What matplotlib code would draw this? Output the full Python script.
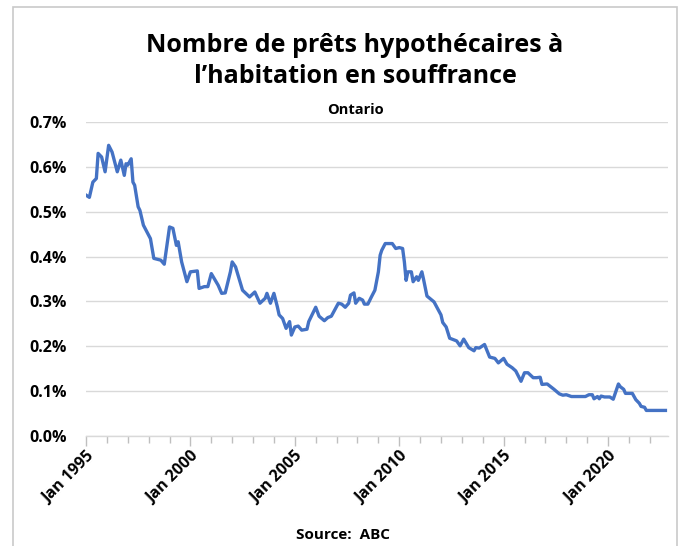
import matplotlib
matplotlib.use("Agg")
import matplotlib.pyplot as plt
import pandas as pd
from matplotlib.patches import Rectangle

plt.rcParams['font.family'] = ['Open Sans', 'DejaVu Sans']

dates = ["1995-01","1995-03","1995-05","1995-07","1995-08","1995-10","1995-12","1996-02","1996-04",
         "1996-07","1996-09","1996-11","1996-12","1997-01","1997-03","1997-04","1997-05","1997-07",
         "1997-08","1997-10","1997-12","1998-02","1998-04","1998-08","1998-10","1999-01","1999-03",
         "1999-05","1999-06","1999-08","1999-11","2000-01","2000-05","2000-06","2000-09","2000-11",
         "2001-01","2001-05","2001-07","2001-09","2001-12","2002-01","2002-03","2002-07","2002-11",
         "2003-02","2003-05","2003-08","2003-09","2003-11","2004-01","2004-03","2004-04","2004-06",
         "2004-08","2004-10","2004-11","2005-01","2005-03","2005-05","2005-08","2005-09","2006-01",
         "2006-03","2006-06","2006-08","2006-10","2007-02","2007-04","2007-06","2007-08","2007-09",
         "2007-11","2007-12","2008-02","2008-04","2008-05","2008-07","2008-09","2008-11","2009-01",
         "2009-02","2009-03","2009-05","2009-09","2009-11","2010-01","2010-03","2010-04","2010-05",
         "2010-06","2010-08","2010-09","2010-11","2010-12","2011-02","2011-03","2011-05","2011-09",
         "2012-01","2012-02","2012-04","2012-06","2012-10","2012-12","2013-02","2013-05","2013-08",
         "2013-09","2013-11","2014-02","2014-05","2014-08","2014-10","2015-01","2015-03","2015-06",
         "2015-08","2015-11","2016-01","2016-03","2016-06","2016-08","2016-10","2016-11","2017-02",
         "2017-06","2017-09","2017-11","2018-01","2018-04","2018-12","2019-02","2019-04","2019-05",
         "2019-07","2019-08","2019-09","2019-11","2020-02","2020-04","2020-07","2020-08","2020-10",
         "2020-11","2021-03","2021-05","2021-07","2021-08","2021-10","2021-11","2022-10"]
values = [0.537,0.532,0.566,0.574,0.630,0.622,0.589,0.648,0.633,
          0.589,0.615,0.581,0.607,0.604,0.618,0.566,0.559,0.511,
          0.503,0.470,0.455,0.440,0.396,0.392,0.383,0.466,0.463,
          0.425,0.433,0.388,0.344,0.366,0.368,0.329,0.333,0.333,
          0.362,0.336,0.318,0.319,0.366,0.388,0.377,0.325,0.310,
          0.321,0.296,0.307,0.318,0.296,0.318,0.288,0.270,0.262,
          0.240,0.255,0.225,0.243,0.245,0.236,0.238,0.255,0.287,
          0.267,0.257,0.264,0.267,0.296,0.294,0.287,0.296,0.314,
          0.319,0.296,0.307,0.303,0.294,0.294,0.310,0.325,0.366,
          0.403,0.414,0.429,0.429,0.418,0.420,0.418,0.388,0.347,
          0.366,0.366,0.344,0.355,0.347,0.366,0.350,0.312,0.299,
          0.270,0.253,0.243,0.218,0.212,0.201,0.216,0.197,0.190,
          0.197,0.196,0.204,0.176,0.173,0.163,0.173,0.160,0.152,
          0.145,0.122,0.141,0.141,0.130,0.130,0.131,0.115,0.116,
          0.104,0.094,0.091,0.092,0.088,0.088,0.092,0.092,0.083,
          0.088,0.083,0.089,0.087,0.087,0.082,0.116,0.110,0.104,
          0.095,0.095,0.081,0.073,0.066,0.064,0.057,0.057]

yticks = [0.0, 0.1, 0.2, 0.3, 0.4, 0.5, 0.6, 0.7]
xtick_years = [1995, 2000, 2005, 2010, 2015, 2020]

title = "Nombre de prêts hypothécaires à\nl\u2019habitation en souffrance"
subtitle = "Ontario"
source = "Source:  ABC"

x = pd.to_datetime(dates)

fig = plt.figure(figsize=(6.79, 5.46), dpi=100)
fig.patches.append(Rectangle((13/679, -0.01), (677-13)/679, 1 - 7/546 + 0.01,
                             transform=fig.transFigure, fill=False,
                             edgecolor='#C9C9C9', linewidth=1.2))
ax = fig.add_axes([86/679, 1-436/546, (668-86)/679, (436-122)/546])

ax.plot(x, values, color='#4472C4', linewidth=2.4, solid_joinstyle='round')

ax.set_ylim(0, 0.7)
ax.set_xlim(pd.Timestamp("1995-01-01"), pd.Timestamp("2022-11-15"))
ax.set_yticks(yticks)
ax.set_yticklabels([f"{v:.1f}%" for v in yticks], fontsize=11.5, fontweight='bold')
ax.tick_params(axis='y', length=0, pad=14)
ax.grid(axis='y', color='#D9D9D9', linewidth=1.0)
ax.set_axisbelow(True)

major = [pd.Timestamp(f"{y}-01-01") for y in xtick_years]
minor = [pd.Timestamp(f"{y}-01-01") for y in range(1995, 2023)]
ax.set_xticks(major)
ax.set_xticks(minor, minor=True)
ax.set_xticklabels([f"Jan {y}" for y in xtick_years], rotation=45, ha='right',
                   rotation_mode='anchor', fontsize=11.5, fontweight='bold')
ax.tick_params(axis='x', which='major', length=7, color='#BFBFBF', width=1, pad=2)
ax.tick_params(axis='x', which='minor', length=5, color='#BFBFBF', width=1)

for s in ['top', 'right', 'left']:
    ax.spines[s].set_visible(False)
ax.spines['bottom'].set_color('#D9D9D9')
ax.spines['bottom'].set_linewidth(1.0)

fig.text(355/679, 1-61/546, title, ha='center', va='center', fontsize=18,
         fontweight='bold', linespacing=1.3)
fig.text(355/679, 1-110/546, subtitle, ha='center', va='center', fontsize=10.5,
         fontweight='bold')
fig.text(343/679, 1-535/546, source, ha='center', va='center', fontsize=11,
         fontweight='bold')

fig.savefig("out.png", dpi=100)
